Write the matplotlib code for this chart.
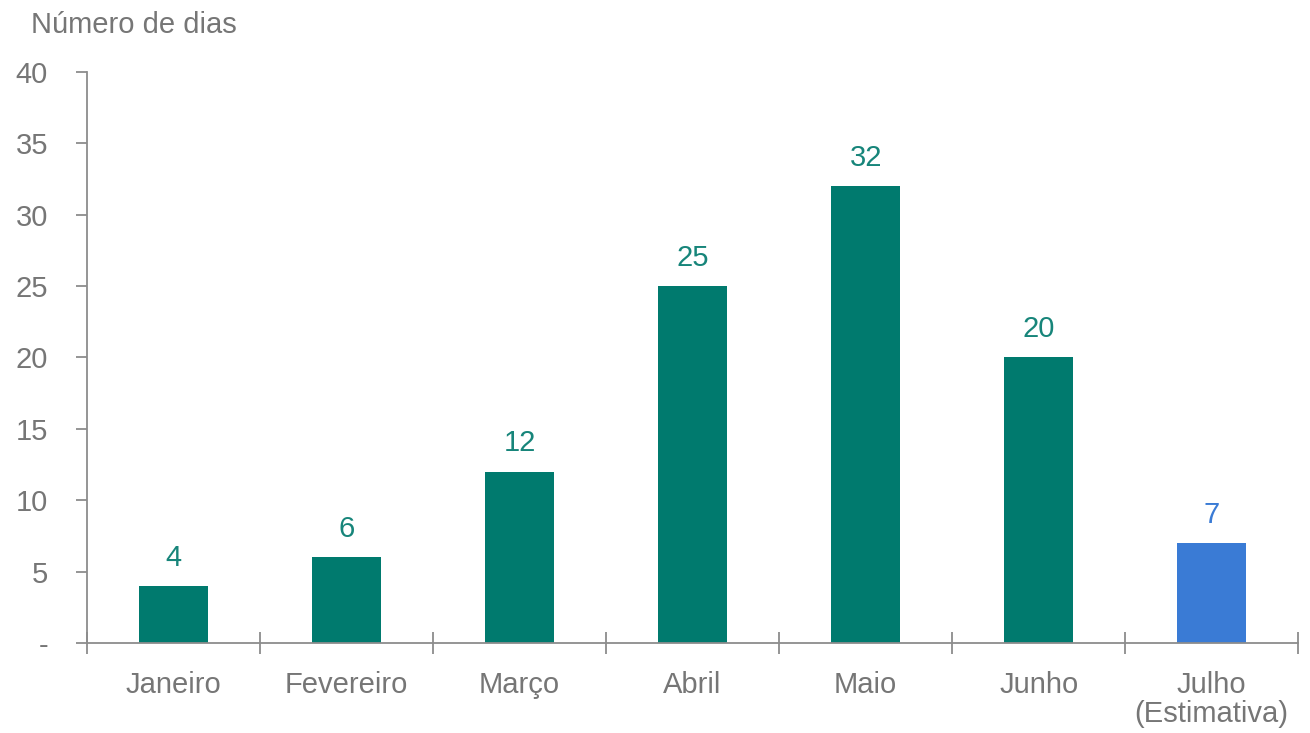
import matplotlib
matplotlib.use("Agg")
import matplotlib.pyplot as plt

# data
months = ["Janeiro", "Fevereiro", "Março", "Abril", "Maio", "Junho", "Julho\n(Estimativa)"]
days = [4, 6, 12, 25, 32, 20, 7]
is_estimate = [False, False, False, False, False, False, True]

yticks = [0, 5, 10, 15, 20, 25, 30, 35, 40]
ytick_labels = ["-", "5", "10", "15", "20", "25", "30", "35", "40"]

teal = "#007A6E"
blue = "#3A7BD5"
label_teal = "#17857A"
gray_text = "#767676"
axis_gray = "#8c8c8c"

plt.rcParams["font.family"] = ["Liberation Sans", "DejaVu Sans"]

fig = plt.figure(figsize=(13.1, 7.33), dpi=100)
ax = fig.add_axes([0.0664, 0.1228, 0.9246, 0.779])

x = list(range(len(months)))
colors = [blue if e else teal for e in is_estimate]
ax.bar(x, days, width=0.4, color=colors, zorder=2)

for xi, v, e in zip(x, days, is_estimate):
    ax.text(xi, v + 1.0, str(v), ha="center", va="bottom", fontsize=21,
            color=blue if e else label_teal)

ax.set_xlim(-0.5, len(months) - 0.5)
ax.set_ylim(0, 40)
ax.set_yticks(yticks)
ax.set_yticklabels(ytick_labels)
ax.set_xticks(x)
ax.set_xticklabels(months, linespacing=1.05)

# category boundary ticks crossing the x axis
ax.set_xticks([i + 0.5 for i in range(-1, len(months))], minor=True)
ax.tick_params(axis="x", which="major", length=0, labelsize=21, labelcolor=gray_text, pad=20)
ax.tick_params(axis="x", which="minor", direction="inout", length=16, width=1.3, color=axis_gray)
ax.tick_params(axis="y", length=8, width=1.3, color=axis_gray, labelsize=21, labelcolor=gray_text, pad=20)

for side in ["top", "right"]:
    ax.spines[side].set_visible(False)
for side in ["left", "bottom"]:
    ax.spines[side].set_color(axis_gray)
    ax.spines[side].set_linewidth(1.3)

fig.text(0.024, 0.985, "Número de dias", ha="left", va="top", fontsize=21, color=gray_text)

fig.savefig("out.png", dpi=100)
